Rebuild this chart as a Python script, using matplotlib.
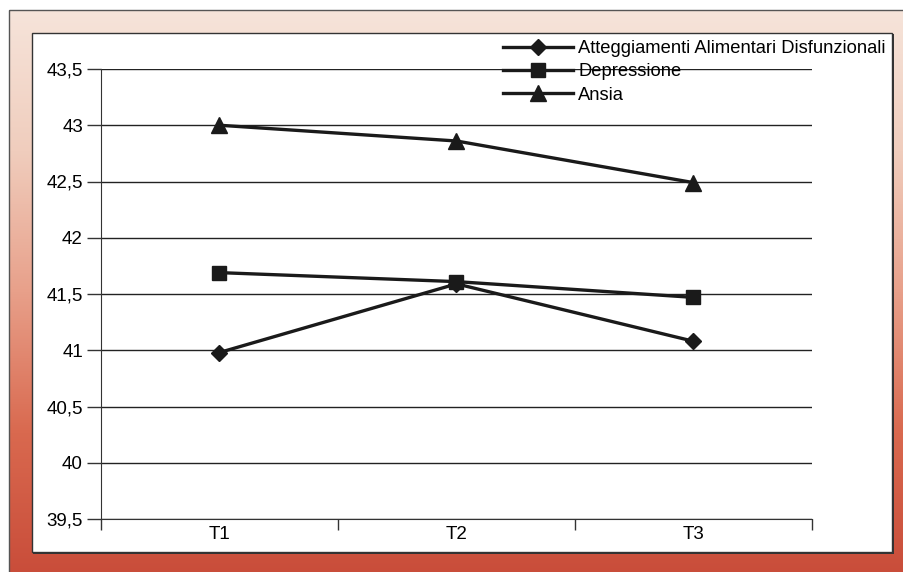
import numpy as np
import matplotlib
matplotlib.use("Agg")
import matplotlib.pyplot as plt
from matplotlib.colors import LinearSegmentedColormap
from matplotlib.patches import Rectangle

plt.rcParams['font.family'] = ['Liberation Sans', 'DejaVu Sans']

tempi = ['T1', 'T2', 'T3']
atteggiamenti = [40.98, 41.59, 41.08]
depressione = [41.69, 41.61, 41.47]
ansia = [43.0, 42.86, 42.49]
yticks = [39.5, 40, 40.5, 41, 41.5, 42, 42.5, 43, 43.5]

W, H = 904, 572
fig = plt.figure(figsize=(W / 100, H / 100), dpi=100)

# cornice con sfumatura rosa -> rosso
bg = fig.add_axes([0, 0, 1, 1])
bg.set_xlim(0, W)
bg.set_ylim(H, 0)
bg.axis('off')
cmap = LinearSegmentedColormap.from_list('cornice', ['#f6e4da', '#f0cdbd', '#e8a08a', '#d9694f', '#c94d3a'])
grad = np.linspace(0, 1, 256).reshape(-1, 1)
bg.imshow(grad, cmap=cmap, aspect='auto', extent=[9, W + 2, H + 2, 10], zorder=0)
bg.add_patch(Rectangle((9, 10), W, H, fill=False, ec='#555555', lw=1.0, zorder=1))
bg.add_patch(Rectangle((33, 34), 861, 520, fc='#333333', ec='none', zorder=1))
bg.add_patch(Rectangle((32, 33), 860, 519, fc='white', ec='#333333', lw=1.0, zorder=2))

ax = fig.add_axes([101 / W, (H - 519) / H, 711 / W, 450 / H])
ax.set_facecolor('none')
x = np.arange(len(tempi))
ax.plot(x, atteggiamenti, color='#1a1a1a', lw=2.4, marker='D', ms=8.5, label='Atteggiamenti Alimentari Disfunzionali', zorder=3)
ax.plot(x, depressione, color='#1a1a1a', lw=2.4, marker='s', ms=9.5, label='Depressione', zorder=3)
ax.plot(x, ansia, color='#1a1a1a', lw=2.4, marker='^', ms=11.5, label='Ansia', zorder=3)

ax.set_xlim(-0.5, 2.5)
ax.set_ylim(39.5, 43.5)
ax.set_yticks(yticks)
ax.set_yticklabels([f'{v:g}'.replace('.', ',') for v in yticks])
ax.set_xticks(x)
ax.set_xticklabels(tempi)
ax.set_xticks([-0.5, 0.5, 1.5, 2.5], minor=True)
ax.tick_params(axis='x', which='major', length=0, pad=5, labelsize=13.5)
ax.tick_params(axis='x', which='minor', length=8, width=1, color='#333333', direction='out')
ax.tick_params(axis='y', length=10, width=1, color='#333333', pad=3, labelsize=13.5)
for v in yticks:
    ax.axhline(v, color='#222222', lw=1.0, zorder=1)
for s in ['top', 'right']:
    ax.spines[s].set_visible(False)
ax.spines['left'].set_color('#333333')
ax.spines['bottom'].set_color('#333333')

fig.legend(loc='upper left', bbox_to_anchor=(503 / W, 1 - 40 / H), frameon=False,
           fontsize=13.2, handlelength=3.8, handletextpad=0.3, labelspacing=0.35,
           borderpad=0, borderaxespad=0)

fig.savefig('out.png', dpi=100)
